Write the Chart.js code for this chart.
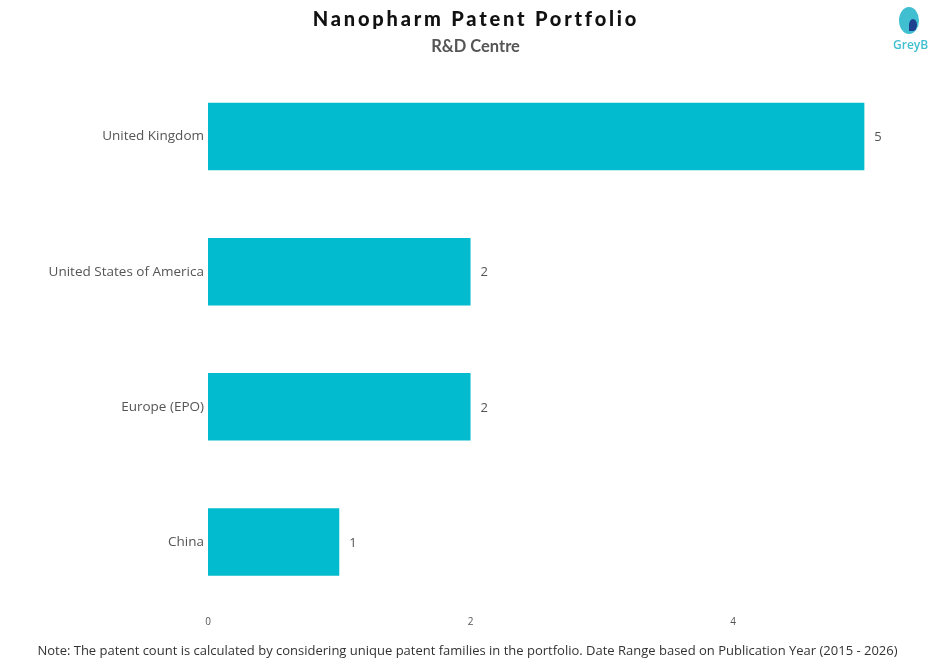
<!DOCTYPE html>
<html><head><meta charset="utf-8">
<script src="https://cdn.jsdelivr.net/npm/chart.js@4/dist/chart.umd.min.js"></script>
<style>
html,body{margin:0;padding:0;background:#fff;}
#wrap{position:relative;width:940px;height:667px;}
#title{position:absolute;top:6px;left:0;width:952px;text-align:center;font-family:Lato,"Open Sans",sans-serif;font-weight:900;font-size:20px;letter-spacing:2.8px;color:#111;}
#sub{position:absolute;top:36px;left:0;width:951px;text-align:center;font-family:Lato,sans-serif;font-weight:bold;font-size:16.5px;color:#555;}
#note{position:absolute;top:641px;left:0;width:935px;text-align:center;font-family:"Open Sans",sans-serif;font-size:13px;color:#333;}
#logo{position:absolute;left:893px;top:5px;width:34px;height:50px;}
#logo .c{position:absolute;left:6px;top:2px;width:20px;height:27px;border-radius:50%;background:#3fbfcf;}
#logo .d{position:absolute;left:16px;top:14px;width:8px;height:12px;border-radius:50% 50% 50% 0;background:#1f3f8f;}
#logo .t{position:absolute;left:0;top:31px;width:34px;text-align:center;font-family:"Open Sans",sans-serif;font-size:12px;font-weight:600;color:#3fbfcf;}
canvas{position:absolute;left:0;top:0;}
</style></head>
<body><div id="wrap">
<canvas id="c" width="940" height="667"></canvas>
<div id="title">Nanopharm Patent Portfolio</div>
<div id="sub">R&amp;D Centre</div>
<div id="logo"><div class="c"></div><div class="d"></div><div class="t">GreyB</div></div>
<div id="note">Note: The patent count is calculated by considering unique patent families in the portfolio. Date Range based on Publication Year (2015 - 2026)</div>
</div>
<script>
const categories = ["United Kingdom", "United States of America", "Europe (EPO)", "China"];
const patentCounts = [5, 2, 2, 1];
const tickValues = [0, 2, 4];
const barColor = "#03BBCE";

const valueLabels = {
  id: "valueLabels",
  afterDatasetsDraw(chart) {
    const ctx = chart.ctx;
    const meta = chart.getDatasetMeta(0);
    ctx.save();
    ctx.font = "13px 'Open Sans', sans-serif";
    ctx.fillStyle = "#555";
    ctx.textAlign = "left";
    ctx.textBaseline = "middle";
    meta.data.forEach((bar, i) => {
      ctx.fillText(String(patentCounts[i]), bar.x + 10, bar.y + 1);
    });
    ctx.restore();
  }
};

new Chart(document.getElementById("c"), {
  type: "bar",
  data: {
    labels: categories,
    datasets: [{
      data: patentCounts,
      backgroundColor: barColor,
      barPercentage: 0.5,
      categoryPercentage: 1.0
    }]
  },
  options: {
    indexAxis: "y",
    responsive: false,
    animation: false,
    devicePixelRatio: 1,
    layout: { padding: { top: 69, right: 10, bottom: 0, left: 0 } },
    plugins: { legend: { display: false }, tooltip: { enabled: false } },
    scales: {
      x: {
        min: 0, max: 5.5,
        grid: { display: false, drawTicks: false },
        border: { display: false },
        afterBuildTicks(scale) { scale.ticks = tickValues.map(v => ({ value: v })); },
        ticks: { color: "#555", font: { family: "'Open Sans', sans-serif", size: 10 }, padding: 7 },
        afterFit(scale) { scale.height = 57.5; }
      },
      y: {
        grid: { display: false, drawTicks: false },
        border: { display: false },
        ticks: { color: "#555", font: { family: "'Open Sans', sans-serif", size: 13.5, lineHeight: 1.0 }, padding: 4 },
        afterFit(scale) { scale.width = 208; }
      }
    }
  },
  plugins: [valueLabels]
});
</script>
</body></html>
